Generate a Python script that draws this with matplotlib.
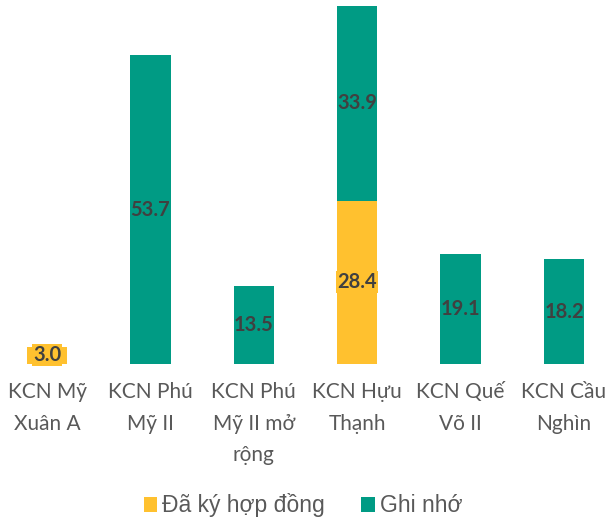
import matplotlib.pyplot as plt
import numpy as np

categories = ["KCN Mỹ\nXuân A", "KCN Phú\nMỹ II", "KCN Phú\nMỹ II mở\nrộng", "KCN Hựu\nThạnh", "KCN Quế\nVõ II", "KCN Cầu\nNghìn"]
signed = [3.0, 0, 0, 28.4, 0, 0]
memo = [0, 53.7, 13.5, 33.9, 19.1, 18.2]
series_names = ["Đã ký hợp đồng", "Ghi nhớ"]
colors = ["#FFC12F", "#009B84"]

fig = plt.figure(figsize=(6.06, 5.2), dpi=100)
ax = fig.add_axes([0, 0.3, 1, 0.7])
x = np.arange(len(categories))
w = 0.39
b1 = ax.bar(x, signed, w, color=colors[0], label=series_names[0])
b2 = ax.bar(x, memo, w, bottom=signed, color=colors[1], label=series_names[1])

for i in range(len(x)):
    if signed[i] > 0:
        ax.text(x[i], signed[i] / 2, f"{signed[i]:.1f}", ha="center", va="center",
                fontsize=14.5, fontweight="bold", color="#404040", family="Lato",
                bbox=dict(boxstyle="square,pad=0.05", fc=colors[0], ec="none"))
    if memo[i] > 0:
        ax.text(x[i], signed[i] + memo[i] / 2, f"{memo[i]:.1f}", ha="center", va="center",
                fontsize=14.5, fontweight="bold", color="#404040", family="Lato")

ax.set_xlim(-0.455, 5.406)
ax.set_ylim(0, 63.3)
ax.set_xticks(x)
ax.set_xticklabels(categories, fontsize=15, color="#595959", family="Lato", linespacing=1.72)
ax.tick_params(axis="x", length=0, pad=13)
ax.set_yticks([])
for s in ax.spines.values():
    s.set_visible(False)

fig.legend(handles=[b1, b2], labels=series_names, loc="center", bbox_to_anchor=(0.5, 0.028),
           ncol=2, frameon=False, handlelength=0.6, handleheight=0.6, handletextpad=0.2,
           columnspacing=1.6, prop={"family": "Liberation Sans", "size": 16.5},
           labelcolor="#595959")
fig.savefig("out.png", dpi=100)
